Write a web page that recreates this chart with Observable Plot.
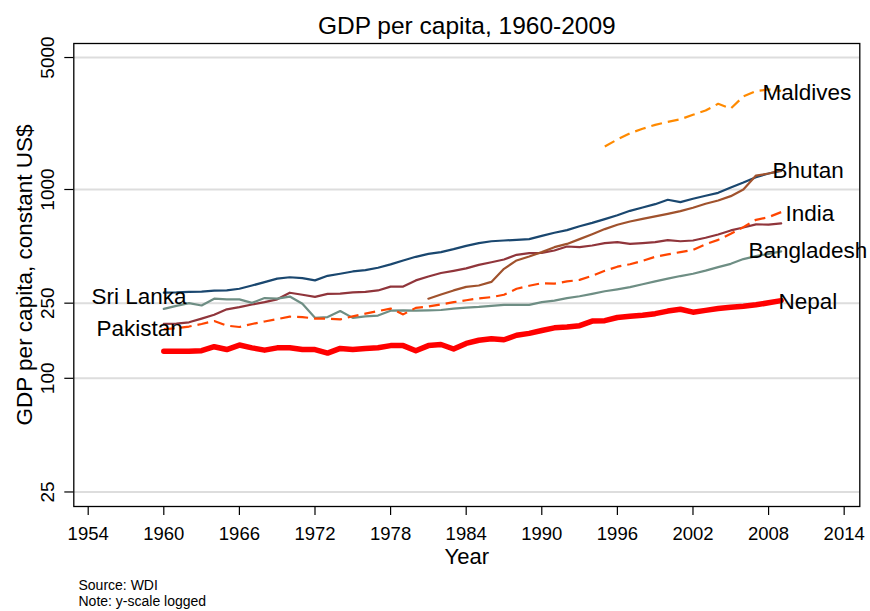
<!DOCTYPE html>
<html>
<head>
<meta charset="utf-8">
<script src="https://cdn.jsdelivr.net/npm/d3@7"></script>
<script src="https://cdn.jsdelivr.net/npm/@observablehq/plot@0.6"></script>
<style>
  html, body { margin: 0; padding: 0; background: #fff; }
  #chart svg { display: block; }
</style>
</head>
<body>
<div id="chart"></div>
<script>
// ---- Data ----
const sriLanka = [284, 285, 287, 288, 291, 292, 298, 310, 323, 337,
  343, 339, 330, 349, 358, 368, 374, 385, 401, 421,
  440, 456, 466, 483, 503, 520, 532, 537, 541, 546,
  568, 590, 609, 639, 666, 697, 730, 771, 803, 836,
  882, 857, 893, 926, 960, 1025, 1089, 1162, 1215, 1255];
const pakistan = [194, 195, 198, 207, 217, 232, 238, 246, 253, 262,
  284, 277, 270, 280, 281, 285, 287, 292, 306, 306,
  330, 346, 361, 371, 382, 399, 412, 426, 451, 460,
  462, 475, 499, 495, 505, 520, 526, 515, 520, 526,
  539, 532, 537, 555, 578, 607, 629, 653, 652, 661];
const bangladesh = [233, 242, 250, 243, 264, 262, 262, 251, 266, 264,
  271, 248, 209, 211, 227, 209, 213, 215, 228, 229,
  228, 229, 230, 234, 237, 239, 242, 245, 245, 245,
  253, 258, 266, 272, 280, 289, 296, 304, 315, 326,
  337, 348, 358, 372, 388, 404, 428, 444, 456, 470];
const bhutan = [264, 278, 292, 305, 310, 324, 380, 421, 442, 466,
  495, 515, 546, 580, 617, 651, 677, 699, 720, 743,
  768, 800, 840, 874, 922, 1000, 1185, 1215, 1260];
const india = [182, 184, 188, 194, 201, 190, 187, 194, 200, 206,
  212, 211, 207, 207, 205, 213, 220, 227, 234, 218,
  236, 240, 246, 253, 259, 265, 269, 277, 298, 309,
  319, 317, 326, 332, 349, 371, 390, 402, 419, 440,
  453, 466, 479, 513, 541, 583, 632, 691, 714, 759];
const maldives = [1690, 1840, 1986, 2096, 2200, 2283, 2356, 2486, 2620, 2844,
  2685, 3109, 3317, 3390, 3330];
const nepal = [139, 139, 139, 140, 147, 142, 150, 145, 141, 145,
  145, 142, 142, 136, 144, 142, 144, 145, 149, 149,
  140, 149, 151, 143, 153, 159, 162, 160, 169, 173,
  179, 185, 187, 190, 201, 202, 210, 213, 216, 220,
  227, 232, 224, 229, 234, 238, 241, 245, 251, 258];

const countries = ["Sri Lanka", "Pakistan", "Bangladesh", "Bhutan", "India", "Maldives", "Nepal"];
const startYears = [1960, 1960, 1960, 1981, 1960, 1995, 1960];
const valueLists = [sriLanka, pakistan, bangladesh, bhutan, india, maldives, nepal];

const xTicks = [1954, 1960, 1966, 1972, 1978, 1984, 1990, 1996, 2002, 2008, 2014];
const yTicks = [25, 100, 250, 1000, 5000];

const titleText = "GDP per capita, 1960-2009";
const xTitle = "Year";
const yTitle = "GDP per capita, constant US$";
const notes = ["Source: WDI", "Note: y-scale logged"];

// ---- Styles ----
const styles = {
  "Sri Lanka":  {stroke: "#1a476f", width: 2.2, dash: null},
  "Pakistan":   {stroke: "#90353b", width: 2.2, dash: null},
  "Bangladesh": {stroke: "#6e8e84", width: 2.2, dash: null},
  "Bhutan":     {stroke: "#a0522d", width: 2.2, dash: null},
  "India":      {stroke: "#ff4500", width: 2.2, dash: "11,6"},
  "Maldives":   {stroke: "#ff8a00", width: 2.2, dash: "11,6"},
  "Nepal":      {stroke: "#ff0000", width: 5.5, dash: null}
};
// label anchored at first/last point of a series, with pixel offsets
const labelPlacement = {
  "Maldives":   {at: "last",  dx: -18.7, dy: 1.6},
  "Bhutan":     {at: "last",  dx: -8.7,  dy: 0.3},
  "India":      {at: "last",  dx: 4.3,   dy: 1.4},
  "Bangladesh": {at: "last",  dx: -32.7, dy: -0.9},
  "Nepal":      {at: "last",  dx: -2.7,  dy: 0.9},
  "Sri Lanka":  {at: "first", dx: -72.3, dy: 3.8},
  "Pakistan":   {at: "first", dx: -67.3, dy: 4.8}
};

const rows = countries.flatMap((c, k) =>
  valueLists[k].map((v, i) => ({country: c, year: startYears[k] + i, gdp: v})));

const FONT = "'Liberation Sans', Arial, Helvetica, sans-serif";

const lineMarks = countries.map(c => {
  const st = styles[c];
  return Plot.line(rows.filter(r => r.country === c), {
    x: "year", y: "gdp", stroke: st.stroke, strokeWidth: st.width,
    strokeDasharray: st.dash, strokeLinejoin: "round", strokeLinecap: st.dash ? "butt" : "round"
  });
});

const labelMarks = countries.map(c => {
  const pts = rows.filter(r => r.country === c);
  const p = labelPlacement[c];
  const pt = p.at === "last" ? pts[pts.length - 1] : pts[0];
  return Plot.text([pt], {
    x: "year", y: "gdp", text: () => c, dx: p.dx, dy: p.dy,
    textAnchor: "start", lineAnchor: "middle", fontSize: 22.5, fill: "black"
  });
});

const chart = Plot.plot({
  width: 870,
  height: 611,
  marginLeft: 73.3,
  marginRight: 10.7,
  marginTop: 43,
  marginBottom: 105,
  style: {fontFamily: FONT, background: "#ffffff", color: "black"},
  x: {domain: [1952.857, 2015.24], axis: null},
  y: {type: "log", domain: [20.94, 5933], axis: null},
  marks: [
    Plot.ruleY(yTicks, {y: d => d, stroke: "#dddddd", strokeWidth: 2}),
    Plot.axisX({ticks: xTicks, tickSize: 9, tickPadding: 11.5, fontSize: 18.5,
      tickFormat: d => String(d), label: null, strokeWidth: 1.2}),
    Plot.axisY({ticks: yTicks, tickSize: 9, tickFormat: () => "", label: null, strokeWidth: 1.2}),
    Plot.text(yTicks, {y: d => d, text: d => String(d), frameAnchor: "left", rotate: -90,
      textAnchor: "middle", lineAnchor: "bottom", dx: -20, fontSize: 19, fill: "black"}),
    ...lineMarks,
    Plot.frame({stroke: "black", strokeWidth: 1.3}),
    ...labelMarks,
    Plot.text([titleText], {text: d => d, frameAnchor: "top", dy: -9.7,
      lineAnchor: "bottom", fontSize: 24.5, fill: "black"}),
    Plot.text([xTitle], {text: d => d, frameAnchor: "bottom", dy: 57.5,
      lineAnchor: "bottom", fontSize: 22, fill: "black"}),
    Plot.text([yTitle], {text: d => d, frameAnchor: "left", rotate: -90, dx: -41.6,
      textAnchor: "middle", lineAnchor: "bottom", fontSize: 22.5, fill: "black"}),
    Plot.text([notes[0]], {text: d => d, frameAnchor: "bottom-left", dx: 4.7, dy: 83,
      textAnchor: "start", lineAnchor: "bottom", fontSize: 14, fill: "black"}),
    Plot.text([notes[1]], {text: d => d, frameAnchor: "bottom-left", dx: 4.7, dy: 99.5,
      textAnchor: "start", lineAnchor: "bottom", fontSize: 14, fill: "black"})
  ]
});

document.getElementById("chart").appendChild(chart);
</script>
</body>
</html>
